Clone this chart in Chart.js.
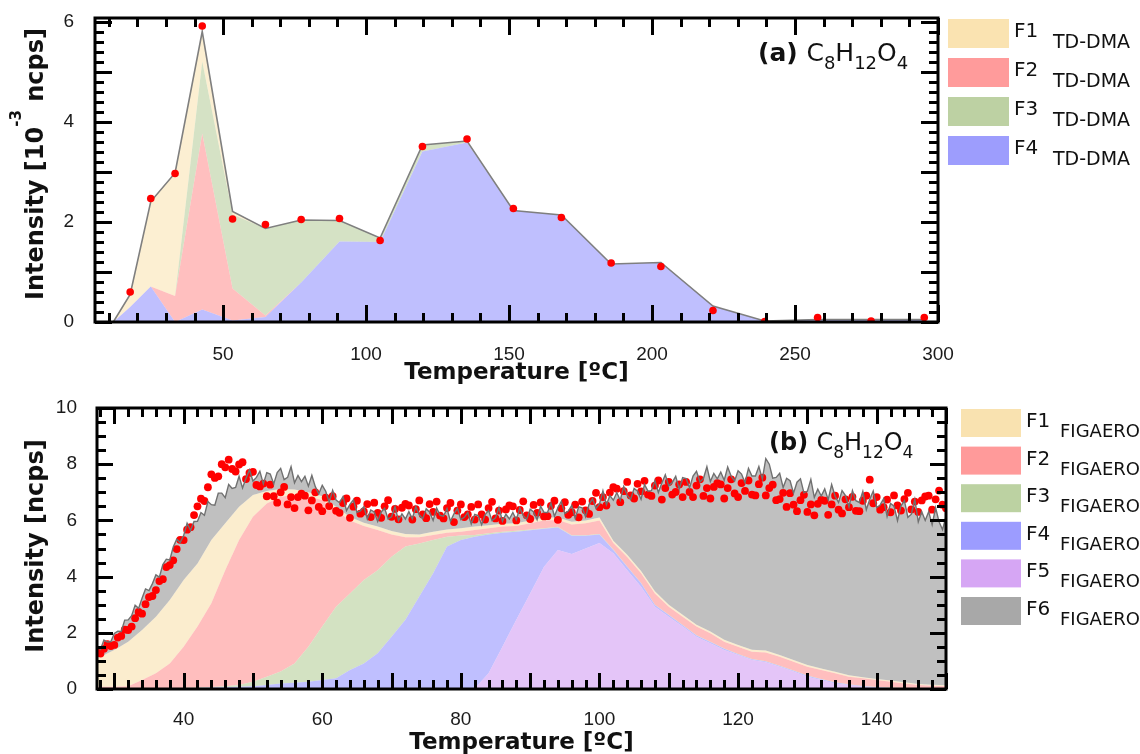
<!DOCTYPE html>
<html>
<head>
<meta charset="utf-8">
<script src="https://cdn.jsdelivr.net/npm/chart.js@4.4.0/dist/chart.umd.min.js"></script>
<style>
  html, body { margin: 0; padding: 0; background: #fff; overflow: hidden; }
  #wrap { position: relative; width: 1140px; height: 754px; }
  canvas { position: absolute; left: 0; }
  #tdCanvas { top: 0; }
  #figCanvas { top: 385px; }
</style>
</head>
<body>
<div id="wrap">
  <canvas id="tdCanvas" width="1140" height="385"></canvas>
  <canvas id="figCanvas" width="1140" height="369"></canvas>
</div>
<script>
// ---------- panel (a): TD-DMA ----------
const tdTemp = [11.6, 17.5, 24.7, 33.2, 42.7, 53.3, 64.8, 77.3, 90.7, 104.9, 119.7, 135.3, 151.5, 168.3, 185.7, 203.1, 221.3, 239.4, 257.9, 276.6, 295.2];
const tdF1 = [0, 0.25, 1.7, 2.46, 0.6, 0.06, 0, 0, 0, 0, 0, 0, 0, 0, 0, 0, 0, 0, 0, 0, 0];
const tdF2 = [0, 0, 0, 0.52, 3.52, 0.64, 0.03, 0, 0, 0, 0, 0, 0, 0, 0, 0, 0, 0, 0, 0, 0];
const tdF3 = [0, 0, 0, 0, 1.44, 1.48, 1.74, 1.25, 0.42, 0.08, 0.13, 0.03, 0, 0, 0, 0, 0, 0, 0, 0, 0];
const tdF4 = [0, 0.3, 0.71, 0, 0.25, 0.03, 0.1, 0.79, 1.61, 1.6, 3.41, 3.59, 2.23, 2.14, 1.16, 1.19, 0.32, 0.02, 0.05, 0.05, 0.05];
const tdFit = [0, 0.55, 2.41, 2.98, 5.81, 2.21, 1.87, 2.04, 2.03, 1.68, 3.54, 3.62, 2.23, 2.14, 1.16, 1.19, 0.32, 0.02, 0.05, 0.05, 0.05];
const tdMeasTemp = [17.5, 24.7, 33.2, 42.7, 53.3, 64.8, 77.3, 90.7, 104.9, 119.7, 135.3, 151.5, 168.3, 185.7, 203.1, 221.3, 239.4, 257.9, 276.6, 295.2];
const tdMeas = [0.6, 2.47, 2.97, 5.92, 2.06, 1.95, 2.05, 2.07, 1.63, 3.51, 3.66, 2.27, 2.09, 1.18, 1.11, 0.23, 0.01, 0.09, 0.02, 0.09];
const tdTempTicks = [50, 100, 150, 200, 250, 300];
const tdIntTicks = [0, 2, 4, 6];
const tdNames = ['F1', 'F2', 'F3', 'F4'];

// ---------- panel (b): FIGAERO ----------
const figLayerT = [27.5, 28, 30, 32, 34, 36, 38, 40, 42, 44, 46, 48, 50, 52, 54, 56, 58, 60, 62, 64, 66, 68, 70, 72, 74, 76, 78, 80, 82, 84, 86, 88, 90, 92, 94, 96, 98, 100, 102, 104, 106, 108, 110, 112, 114, 116, 118, 120, 122, 124, 126, 128, 130, 132, 134, 136, 138, 140, 142, 144, 146, 148, 150];
const figF1 = [1.02, 1.07, 1.31, 1.58, 1.78, 2.01, 2.26, 2.38, 2.25, 2.25, 1.67, 1.19, 0.77, 0.45, 0.28, 0.2, 0.16, 0.13, 0.13, 0.12, 0.12, 0.12, 0.12, 0.12, 0.1, 0.12, 0.12, 0.12, 0.12, 0.11, 0.1, 0.1, 0.1, 0.1, 0.09, 0.1, 0.1, 0.1, 0.08, 0.08, 0.08, 0.08, 0.07, 0.07, 0.07, 0.07, 0.07, 0.07, 0.07, 0.07, 0.06, 0.06, 0.06, 0.05, 0.05, 0.05, 0.04, 0.04, 0.04, 0.04, 0.04, 0.03, 0.03];
const figF2 = [0.06, 0.06, 0.06, 0.08, 0.3, 0.54, 0.88, 1.46, 2.17, 2.98, 4.13, 5.16, 5.87, 6.16, 6.22, 5.99, 5.34, 4.51, 3.42, 2.6, 1.92, 1.43, 0.79, 0.33, 0.22, 0.18, 0.14, 0.14, 0.18, 0.18, 0.18, 0.17, 0.22, 0.28, 0.24, 0.38, 0.43, 0.48, 0.24, 0.34, 0.35, 0.4, 0.29, 0.29, 0.31, 0.3, 0.24, 0.25, 0.26, 0.31, 0.32, 0.31, 0.31, 0.32, 0.32, 0.27, 0.27, 0.25, 0.21, 0.16, 0.11, 0.09, 0.07];
const figF3 = [0, 0, 0, 0, 0, 0, 0.01, 0.01, 0.01, 0.02, 0.04, 0.06, 0.16, 0.3, 0.42, 0.69, 1.24, 1.9, 2.55, 2.72, 2.97, 2.96, 2.85, 2.61, 1.89, 1.18, 0.35, 0.16, 0.06, 0.04, 0.04, 0.03, 0.03, 0.02, 0.02, 0.02, 0.02, 0.02, 0.01, 0.01, 0.01, 0.01, 0.01, 0.01, 0.01, 0.01, 0.01, 0.01, 0.01, 0.01, 0.01, 0.01, 0.01, 0.01, 0.01, 0.01, 0.01, 0.01, 0.01, 0.01, 0.01, 0.01, 0.01];
const figF4 = [0.02, 0.02, 0.02, 0.02, 0.02, 0.02, 0.02, 0.03, 0.04, 0.05, 0.06, 0.08, 0.1, 0.14, 0.2, 0.22, 0.26, 0.32, 0.38, 0.68, 0.91, 1.27, 1.86, 2.46, 3.29, 4.12, 5.07, 5.3, 5.4, 4.94, 4.06, 3.14, 2.25, 1.35, 0.8, 0.65, 0.45, 0.3, 0.12, 0.12, 0.12, 0.06, 0.06, 0.05, 0.04, 0.04, 0.04, 0.03, 0.03, 0.03, 0.03, 0.03, 0.03, 0.03, 0.03, 0.02, 0.02, 0.02, 0.02, 0.01, 0.01, 0.01, 0.01];
const figF5 = [0, 0, 0, 0, 0, 0, 0, 0, 0, 0, 0, 0, 0, 0, 0, 0, 0, 0, 0, 0, 0, 0, 0, 0, 0, 0, 0, 0, 0.02, 0.56, 1.5, 2.46, 3.4, 4.35, 4.95, 4.8, 5.0, 5.2, 4.83, 4.23, 3.64, 2.93, 2.57, 2.22, 1.86, 1.63, 1.39, 1.21, 1.03, 0.95, 0.79, 0.62, 0.44, 0.32, 0.2, 0.14, 0.08, 0.04, 0.02, 0.02, 0.01, 0.01, 0.01];

const figTemp = [
  27.5, 28, 28.5, 29, 29.5, 30, 30.5, 31, 31.5, 32,
  32.5, 33, 33.5, 34, 34.5, 35, 35.5, 36, 36.5, 37,
  37.5, 38, 38.5, 39, 39.5, 40, 40.5, 41, 41.5, 42,
  42.5, 43, 43.5, 44, 44.5, 45, 45.5, 46, 46.5, 47,
  47.5, 48, 48.5, 49, 49.5, 50, 50.5, 51, 51.5, 52,
  52.5, 53, 53.5, 54, 54.5, 55, 55.5, 56, 56.5, 57,
  57.5, 58, 58.5, 59, 59.5, 60, 60.5, 61, 61.5, 62,
  62.5, 63, 63.5, 64, 64.5, 65, 65.5, 66, 66.5, 67,
  67.5, 68, 68.5, 69, 69.5, 70, 70.5, 71, 71.5, 72,
  72.5, 73, 73.5, 74, 74.5, 75, 75.5, 76, 76.5, 77,
  77.5, 78, 78.5, 79, 79.5, 80, 80.5, 81, 81.5, 82,
  82.5, 83, 83.5, 84, 84.5, 85, 85.5, 86, 86.5, 87,
  87.5, 88, 88.5, 89, 89.5, 90, 90.5, 91, 91.5, 92,
  92.5, 93, 93.5, 94, 94.5, 95, 95.5, 96, 96.5, 97,
  97.5, 98, 98.5, 99, 99.5, 100, 100.5, 101, 101.5, 102,
  102.5, 103, 103.5, 104, 104.5, 105, 105.5, 106, 106.5, 107,
  107.5, 108, 108.5, 109, 109.5, 110, 110.5, 111, 111.5, 112,
  112.5, 113, 113.5, 114, 114.5, 115, 115.5, 116, 116.5, 117,
  117.5, 118, 118.5, 119, 119.5, 120, 120.5, 121, 121.5, 122,
  122.5, 123, 123.5, 124, 124.5, 125, 125.5, 126, 126.5, 127,
  127.5, 128, 128.5, 129, 129.5, 130, 130.5, 131, 131.5, 132,
  132.5, 133, 133.5, 134, 134.5, 135, 135.5, 136, 136.5, 137,
  137.5, 138, 138.5, 139, 139.5, 140, 140.5, 141, 141.5, 142,
  142.5, 143, 143.5, 144, 144.5, 145, 145.5, 146, 146.5, 147,
  147.5, 148, 148.5, 149, 149.5, 150
];
const figFit = [
  1.51, 1.41, 1.74, 1.67, 1.69, 1.98, 2.06, 2.05, 2.45, 2.46,
  2.61, 2.98, 2.87, 3.23, 3.56, 3.5, 3.75, 4.06, 3.98, 4.43,
  4.62, 4.59, 5.05, 5.33, 5.21, 5.46, 5.9, 5.64, 5.96, 5.97,
  6.28, 6.18, 6.67, 6.56, 6.54, 6.97, 6.97, 6.81, 7.28, 7.14,
  7.17, 7.57, 7.15, 7.5, 7.8, 7.4, 7.53, 7.75, 7.3, 7.7,
  7.65, 7.3, 7.7, 7.85, 7.45, 7.53, 7.91, 7.34, 7.6, 7.38,
  7.57, 7.22, 7.6, 7.2, 6.95, 7.25, 7.04, 6.65, 7.07, 6.72,
  6.63, 6.85, 6.35, 6.57, 6.73, 6.29, 6.34, 6.49, 6.05, 6.37,
  6.3, 5.96, 6.3, 6.43, 6.05, 6.13, 6.49, 5.99, 6.23, 6.05,
  6.31, 6.06, 6.49, 6.2, 6.06, 6.41, 6.29, 6.0, 6.44, 6.18,
  6.15, 6.42, 5.97, 6.23, 6.43, 6.03, 6.11, 6.28, 5.87, 6.21,
  6.17, 5.85, 6.21, 6.35, 5.99, 6.09, 6.46, 5.97, 6.22, 6.05,
  6.28, 6.02, 6.45, 6.17, 6.04, 6.4, 6.3, 6.03, 6.51, 6.29,
  6.28, 6.62, 6.15, 6.45, 6.68, 6.24, 6.33, 6.53, 6.08, 6.48,
  6.45, 6.13, 6.57, 6.77, 6.43, 6.59, 7.05, 6.56, 6.88, 6.72,
  6.99, 6.72, 7.21, 6.9, 6.75, 7.14, 7.04, 6.75, 7.28, 7.04,
  7.06, 7.42, 6.99, 7.33, 7.62, 7.23, 7.35, 7.57, 7.12, 7.52,
  7.49, 7.16, 7.58, 7.75, 7.37, 7.49, 7.91, 7.38, 7.67, 7.48,
  7.72, 7.43, 7.9, 7.57, 7.4, 7.77, 7.65, 7.34, 7.85, 7.58,
  7.58, 7.92, 7.47, 8.2, 8.0, 7.5, 7.53, 7.68, 7.17, 7.5,
  7.41, 6.97, 7.36, 7.48, 6.98, 7.04, 7.46, 6.82, 7.11, 6.87,
  7.12, 6.74, 7.28, 6.86, 6.64, 7.06, 6.88, 6.48, 7.06, 6.7,
  6.64, 7.03, 6.38, 6.75, 7.04, 6.46, 6.55, 6.77, 6.14, 6.6,
  6.51, 5.99, 6.52, 6.7, 6.11, 6.22, 6.75, 5.95, 6.31, 6.0,
  6.31, 5.85, 6.45, 5.95, 5.67, 6.15
];
const figMeas = [
  1.35, 1.26, 1.43, 1.6, 1.53, 1.57, 1.83, 1.89, 2.11, 2.1,
  2.22, 2.52, 2.74, 2.68, 3.02, 3.27, 3.31, 3.52, 3.84, 3.91,
  4.34, 4.41, 4.58, 4.98, 5.31, 5.3, 5.67, 5.76, 6.19, 6.5,
  6.77, 6.69, 7.18, 7.64, 7.51, 7.57, 8.0, 7.89, 8.16, 7.83,
  7.74, 7.99, 8.07, 7.47, 7.69, 7.73, 7.26, 7.21, 7.31, 6.86,
  7.27, 6.86, 6.63, 7.0, 7.19, 6.57, 6.83, 6.44, 6.83, 6.95,
  6.88, 6.36, 6.71, 7.0, 6.48, 6.33, 6.81, 6.51, 6.86, 6.34,
  6.27, 6.62, 6.78, 6.09, 6.49, 6.7, 6.24, 6.32, 6.58, 6.12,
  6.63, 6.27, 6.09, 6.5, 6.72, 6.13, 6.41, 6.04, 6.45, 6.59,
  6.53, 6.03, 6.4, 6.71, 6.21, 6.08, 6.58, 6.3, 6.67, 6.17,
  6.07, 6.44, 6.62, 5.94, 6.35, 6.57, 6.12, 6.21, 6.48, 6.03,
  6.57, 6.21, 6.03, 6.44, 6.66, 6.07, 6.35, 5.98, 6.39, 6.53,
  6.5, 6.0, 6.37, 6.68, 6.18, 6.05, 6.55, 6.27, 6.64, 6.14,
  6.15, 6.52, 6.7, 6.02, 6.43, 6.65, 6.2, 6.29, 6.56, 6.11,
  6.67, 6.36, 6.23, 6.69, 6.98, 6.47, 6.83, 6.53, 6.99, 7.18,
  7.13, 6.65, 7.04, 7.37, 6.89, 6.78, 7.3, 7.03, 7.41, 6.92,
  6.87, 7.24, 7.42, 6.74, 7.15, 7.37, 6.92, 7.01, 7.28, 6.83,
  7.37, 7.01, 6.83, 7.24, 7.46, 6.87, 7.15, 6.78, 7.19, 7.33,
  7.28, 6.78, 7.15, 7.46, 6.96, 6.83, 7.33, 7.05, 7.42, 6.92,
  6.89, 7.29, 7.52, 6.89, 7.15, 7.27, 6.72, 6.76, 6.98, 6.48,
  6.97, 6.56, 6.33, 6.72, 6.91, 6.3, 6.57, 6.18, 6.59, 6.73,
  6.7, 6.2, 6.57, 6.88, 6.38, 6.25, 6.75, 6.47, 6.84, 6.34,
  6.33, 6.7, 6.88, 7.45, 6.61, 6.83, 6.38, 6.47, 6.74, 6.29,
  6.89, 6.53, 6.35, 6.76, 6.98, 6.39, 6.67, 6.3, 6.71, 6.85,
  6.88, 6.38, 6.75, 7.06, 6.56, 6.43
];
const figTempTicks = [40, 60, 80, 100, 120, 140];
const figIntTicks = [0, 2, 4, 6, 8, 10];
const figNames = ['F1', 'F2', 'F3', 'F4', 'F5', 'F6'];

const pts = (xs, ys) => xs.map((x, i) => ({ x: x, y: ys[i] }));
const tickFont = { family: 'Liberation Sans', size: 19 };
const titleFont = 'bold 23px "DejaVu Sans"';

function layer(label, xs, ys, color, fill) {
  return { label: label, data: pts(xs, ys), stack: 'layers', fill: fill, backgroundColor: color,
           borderColor: 'rgba(0,0,0,0)', borderWidth: 0, pointRadius: 0, order: 3 };
}

function drawRuns(ctx, runs, x, y, align) {
  let w = 0;
  runs.forEach(r => { ctx.font = r[1]; w += ctx.measureText(r[0]).width; });
  let cx = align === 'center' ? x - w / 2 : (align === 'right' ? x - w : x);
  runs.forEach(r => {
    ctx.font = r[1];
    ctx.fillText(r[0], cx, y + (r[2] || 0));
    cx += ctx.measureText(r[0]).width;
  });
}

// inward ticks on all four sides plus the heavy frame
const frameTicks = {
  id: 'frameTicks',
  afterDatasetsDraw(chart, args, o) {
    const { ctx, chartArea: a, scales: { x, y } } = chart;
    ctx.save();
    ctx.strokeStyle = '#000';
    ctx.lineWidth = 3;
    ctx.beginPath();
    for (let k = Math.ceil(x.min / o.xMinor - 1e-9); k * o.xMinor <= x.max + 1e-9; k++) {
      const v = k * o.xMinor;
      const len = Math.abs(v / o.xMajor - Math.round(v / o.xMajor)) < 1e-6 ? o.majorLen : o.minorLen;
      const px = Math.round(x.getPixelForValue(v)) + 0.5;
      ctx.moveTo(px, a.bottom); ctx.lineTo(px, a.bottom - len);
      ctx.moveTo(px, a.top); ctx.lineTo(px, a.top + len);
    }
    for (let k = Math.ceil(y.min / o.yMinor - 1e-9); k * o.yMinor <= y.max + 1e-9; k++) {
      const v = k * o.yMinor;
      const len = Math.abs(v / o.yMajor - Math.round(v / o.yMajor)) < 1e-6 ? o.majorLen : o.minorLen;
      const py = Math.round(y.getPixelForValue(v)) + 0.5;
      ctx.moveTo(a.left, py); ctx.lineTo(a.left + len, py);
      ctx.moveTo(a.right, py); ctx.lineTo(a.right - len, py);
    }
    ctx.stroke();
    ctx.strokeRect(a.left, a.top, a.right - a.left, a.bottom - a.top);
    ctx.restore();
  }
};

const panelText = {
  id: 'panelText',
  afterDraw(chart, args, o) {
    const { ctx, chartArea: a } = chart;
    ctx.save();
    ctx.textAlign = 'left';
    ctx.textBaseline = 'alphabetic';
    ctx.fillStyle = '#111';
    drawRuns(ctx, [['Temperature [ºC]', titleFont]], (a.left + a.right) / 2, o.xTitleY, 'center');
    ctx.save();
    ctx.translate(o.yTitleX, o.yTitleY);
    ctx.rotate(-Math.PI / 2);
    drawRuns(ctx, o.yTitle, 0, 0, 'center');
    ctx.restore();
    drawRuns(ctx, o.label, o.labelX, o.labelY, 'left');
    const lg = o.legend;
    lg.names.forEach((name, i) => {
      const top = lg.top + i * lg.gap;
      ctx.fillStyle = lg.colors[i];
      ctx.fillRect(lg.x, top, lg.w, lg.h);
      ctx.fillStyle = '#111';
      drawRuns(ctx, [[name, lg.font]], lg.x + lg.w + 5, top + lg.nameDy, 'left');
      drawRuns(ctx, [[lg.sub, lg.subFont]], lg.subX, top + lg.subDy, 'left');
    });
    ctx.restore();
  }
};

function axes(xMin, xMax, yMin, yMax, xTicks, yTicks, yWidth, xHeight, xPad, yPad) {
  return {
    x: {
      type: 'linear', min: xMin, max: xMax,
      grid: { display: false }, border: { display: false },
      ticks: { color: '#1a1a1a', font: tickFont, padding: xPad, maxRotation: 0, autoSkip: false },
      afterBuildTicks: s => { s.ticks = xTicks.map(v => ({ value: v })); },
      afterFit: s => { s.height = xHeight; s.paddingLeft = 0; s.paddingRight = 0; }
    },
    y: {
      type: 'linear', min: yMin, max: yMax, stacked: true,
      grid: { display: false }, border: { display: false },
      ticks: { color: '#1a1a1a', font: tickFont, padding: yPad, autoSkip: false },
      afterBuildTicks: s => { s.ticks = yTicks.map(v => ({ value: v })); },
      afterFit: s => { s.width = yWidth; s.paddingTop = 0; s.paddingBottom = 0; }
    }
  };
}

// ---------- chart (a) ----------
new Chart(document.getElementById('tdCanvas'), {
  type: 'line',
  data: {
    datasets: [
      layer('F4 TD-DMA', tdTemp, tdF4, 'rgba(157,157,253,0.65)', 'origin'),
      layer('F2 TD-DMA', tdTemp, tdF2, 'rgba(255,155,155,0.64)', '-1'),
      layer('F3 TD-DMA', tdTemp, tdF3, 'rgba(189,209,163,0.63)', '-1'),
      layer('F1 TD-DMA', tdTemp, tdF1, 'rgba(250,227,177,0.58)', '-1'),
      { label: 'fit', data: pts(tdTemp, tdFit), stack: 'fit', fill: false, borderColor: '#7f7f7f',
        borderWidth: 1.6, pointRadius: 0, order: 1 },
      { label: 'measured', data: pts(tdMeasTemp, tdMeas), stack: 'meas', showLine: false,
        pointRadius: 3.8, pointBackgroundColor: '#ff0000', pointBorderWidth: 0, order: 0 }
    ]
  },
  options: {
    responsive: false,
    animation: false,
    layout: { padding: { top: 18, right: 202, left: 0, bottom: 0 } },
    scales: axes(5.2, 300, 0, 6.08, tdTempTicks, tdIntTicks, 95, 63, 13, 13),
    plugins: {
      legend: { display: false },
      tooltip: { enabled: false },
      filler: { drawTime: 'beforeDatasetsDraw' },
      frameTicks: { xMinor: 10, xMajor: 50, yMinor: 0.2, yMajor: 1, majorLen: 17, minorLen: 9 },
      panelText: {
        xTitleY: 379,
        yTitleX: 43, yTitleY: 164,
        yTitle: [['Intensity [10', 'bold 24px "DejaVu Sans"'], ['-3', 'bold 15px "DejaVu Sans"', -22], [' ncps]', 'bold 24px "DejaVu Sans"']],
        labelX: 758, labelY: 61,
        label: [['(a) ', 'bold 25px "DejaVu Sans"'], ['C', '25px "DejaVu Sans"'], ['8', '18px "DejaVu Sans"', 8],
                ['H', '25px "DejaVu Sans"'], ['12', '18px "DejaVu Sans"', 8], ['O', '25px "DejaVu Sans"'], ['4', '18px "DejaVu Sans"', 8]],
        legend: { names: tdNames, colors: ['#fae3b1', '#ff9b9b', '#bdd1a3', '#9d9dfd'], sub: 'TD-DMA',
                  x: 948, top: 19, gap: 39, w: 61, h: 29, nameDy: 18, subDy: 29, subX: 1053,
                  font: '20px "DejaVu Sans"', subFont: '19px "DejaVu Sans"' }
      }
    }
  },
  plugins: [frameTicks, panelText]
});

// ---------- chart (b) ----------
new Chart(document.getElementById('figCanvas'), {
  type: 'line',
  data: {
    datasets: [
      layer('F5 FIGAERO', figLayerT, figF5, 'rgba(214,166,244,0.65)', 'origin'),
      layer('F4 FIGAERO', figLayerT, figF4, 'rgba(156,156,255,0.65)', '-1'),
      layer('F3 FIGAERO', figLayerT, figF3, 'rgba(188,210,162,0.65)', '-1'),
      layer('F2 FIGAERO', figLayerT, figF2, 'rgba(255,154,154,0.64)', '-1'),
      layer('F1 FIGAERO', figLayerT, figF1, 'rgba(249,226,176,0.62)', '-1'),
      { label: 'fit', data: pts(figTemp, figFit), stack: 'fit', fill: 4, backgroundColor: 'rgba(168,168,168,0.72)',
        borderColor: '#707070', borderWidth: 1.4, pointRadius: 0, order: 0 },
      { label: 'measured', data: pts(figTemp, figMeas), stack: 'meas', showLine: false,
        pointRadius: 3.9, pointBackgroundColor: '#ff0000', pointBorderWidth: 0, order: 1 }
    ]
  },
  options: {
    responsive: false,
    animation: false,
    layout: { padding: { top: 23, right: 194, left: 0, bottom: 0 } },
    scales: axes(27.5, 150, 0, 10, figTempTicks, figIntTicks, 97, 65, 11, 12),
    plugins: {
      legend: { display: false },
      tooltip: { enabled: false },
      filler: { drawTime: 'beforeDatasetsDraw' },
      frameTicks: { xMinor: 2, xMajor: 10, yMinor: 0.5, yMajor: 2, majorLen: 16, minorLen: 9 },
      panelText: {
        xTitleY: 364,
        yTitleX: 43, yTitleY: 161,
        yTitle: [['Intensity [ncps]', 'bold 24px "DejaVu Sans"']],
        labelX: 769, labelY: 65,
        label: [['(b) ', 'bold 24px "DejaVu Sans"'], ['C', '24px "DejaVu Sans"'], ['8', '17px "DejaVu Sans"', 8],
                ['H', '24px "DejaVu Sans"'], ['12', '17px "DejaVu Sans"', 8], ['O', '24px "DejaVu Sans"'], ['4', '17px "DejaVu Sans"', 8]],
        legend: { names: figNames, colors: ['#f9e2b0', '#ff9a9a', '#bcd2a2', '#9c9cff', '#d6a6f4', '#a8a8a8'], sub: 'FIGAERO',
                  x: 961, top: 24, gap: 37.6, w: 60, h: 28, nameDy: 18, subDy: 28, subX: 1060,
                  font: '20px "DejaVu Sans"', subFont: '18px "DejaVu Sans"' }
      }
    }
  },
  plugins: [frameTicks, panelText]
});
</script>
</body>
</html>
